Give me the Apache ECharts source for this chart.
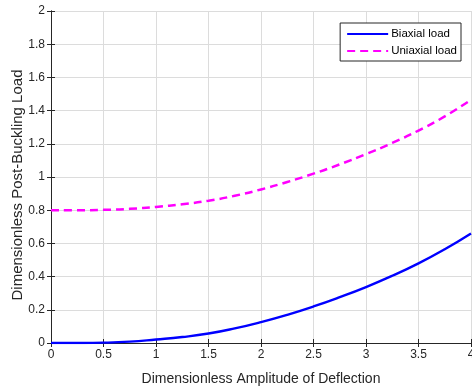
<!DOCTYPE html>
<html><head><meta charset="utf-8">
<script src="https://cdn.jsdelivr.net/npm/echarts@6/dist/echarts.min.js"></script>
<style>html,body{margin:0;padding:0;background:#fff}#c{width:472px;height:389px}</style>
</head><body><div id="c"></div>
<script>
const xValues = [0,0.25,0.5,0.75,1,1.25,1.5,1.75,2,2.25,2.5,2.75,3,3.25,3.5,3.75,4];
const biaxial = [0,0.0003,0.002,0.008,0.021,0.036,0.057,0.088,0.126,0.17,0.22,0.276,0.337,0.405,0.48,0.565,0.66];
const uniaxial = [0.8,0.8,0.802,0.808,0.82,0.836,0.857,0.887,0.925,0.97,1.02,1.076,1.138,1.205,1.28,1.365,1.465];
const seriesNames = ['Biaxial load','Uniaxial load'];
const xLabel = 'Dimensionless Amplitude of Deflection';
const yLabel = 'Dimensionless Post-Buckling Load';

const ax = '#262626';
const font = 'Liberation Sans, Arial, sans-serif';
const chart = echarts.init(document.getElementById('c'));
const pairs = arr => xValues.map((x,i)=>[x,arr[i]]);
const baseX = {type:'value',min:0,max:4,interval:0.5};
const baseY = {type:'value',min:0,max:2,interval:0.2};
chart.setOption({
  backgroundColor:'#fff',
  animation:false,
  grid:{left:51,right:1,top:11,bottom:46,show:false,containLabel:false,outerBoundsMode:'none'},
  legend:{
    right:11, top:23, orient:'vertical',
    backgroundColor:'#fff', borderColor:ax, borderWidth:1, borderRadius:0,
    padding:[5,4,4,6], itemWidth:41, itemHeight:10, itemGap:5,
    itemStyle:{opacity:0},
    textStyle:{fontFamily:font,fontSize:11.5,color:'#000',padding:[0,0,0,-2]},
    data:seriesNames
  },
  xAxis:[
    Object.assign({},baseX,{position:'bottom',name:xLabel,nameLocation:'middle',nameGap:29,
      nameMoveOverlap:false,
      nameTextStyle:{fontFamily:font,fontSize:14,color:ax},
      axisLine:{show:true,lineStyle:{color:ax,width:1}},
      axisTick:{show:true,inside:true,length:4,lineStyle:{color:ax}},
      axisLabel:{fontFamily:font,fontSize:12,color:ax,margin:6},
      splitLine:{show:true,lineStyle:{color:'#dcdcdc',width:1}}}),
    Object.assign({},baseX,{position:'top',
      axisLine:{show:true,lineStyle:{color:ax,width:1}},
      axisTick:{show:true,inside:true,length:4,lineStyle:{color:ax}},
      axisLabel:{show:false},splitLine:{show:false}})
  ],
  yAxis:[
    Object.assign({},baseY,{position:'left',name:yLabel,nameLocation:'middle',nameGap:26,
      nameMoveOverlap:false,
      nameTextStyle:{fontFamily:font,fontSize:15,color:ax,padding:[0,16,0,0]},
      axisLine:{show:true,lineStyle:{color:ax,width:1}},
      axisTick:{show:true,inside:true,length:4,lineStyle:{color:ax}},
      axisLabel:{fontFamily:font,fontSize:12,color:ax,margin:6},
      splitLine:{show:true,lineStyle:{color:'#dcdcdc',width:1}}}),
    Object.assign({},baseY,{position:'right',
      axisLine:{show:true,lineStyle:{color:ax,width:1}},
      axisTick:{show:true,inside:true,length:4,lineStyle:{color:ax}},
      axisLabel:{show:false},splitLine:{show:false}})
  ],
  series:[
    {name:seriesNames[0],type:'line',data:pairs(biaxial),smooth:true,symbol:'none',
      color:'#0000ff',lineStyle:{color:'#0000ff',width:2.4}},
    {name:seriesNames[1],type:'line',data:pairs(uniaxial),smooth:true,symbol:'none',
      color:'#ff00ff',lineStyle:{color:'#ff00ff',width:2.5,type:[8,5]}}
  ]
});
</script></body></html>
